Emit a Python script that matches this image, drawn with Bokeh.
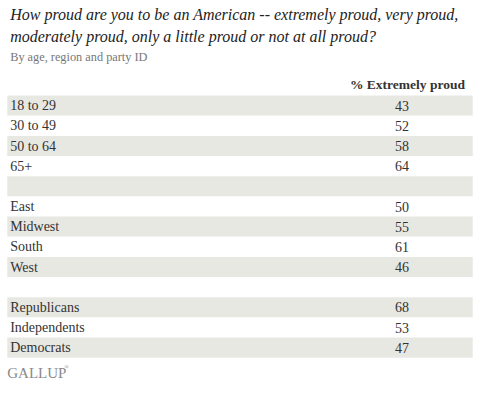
from bokeh.plotting import figure
from bokeh.models import ColumnDataSource, Range1d
from bokeh.core.properties import value
from bokeh.embed import file_html
from bokeh.resources import INLINE

title_lines = ["How proud are you to be an American -- extremely proud, very proud,",
               "moderately proud, only a little proud or not at all proud?"]
subtitle = "By age, region and party ID"
column_header = "% Extremely proud"

age_groups = ["18 to 29", "30 to 49", "50 to 64", "65+"]
age_pct = [43, 52, 58, 64]
regions = ["East", "Midwest", "South", "West"]
region_pct = [50, 55, 61, 46]
parties = ["Republicans", "Independents", "Democrats"]
party_pct = [68, 53, 47]

SERIF = "Liberation Serif"

# one row per line of the table, with an empty row between groups
labels, values = [], []
for names, pcts in [(age_groups, age_pct), (regions, region_pct), (parties, party_pct)]:
    if labels:
        labels.append("")
        values.append("")
    labels += names
    values += [str(v) for v in pcts]

row_h = 21
top = 99
n = len(labels)
centers = [top + row_h * (i + 0.5) for i in range(n)]
shade = ["#e8e8e3" if i % 2 == 0 else "#ffffff" for i in range(n)]

rows = ColumnDataSource(dict(label=labels, val=values, y=centers, fill=shade))

p = figure(width=479, height=388, output_backend="svg", toolbar_location=None,
           x_range=Range1d(0, 495), y_range=Range1d(404, 0),
           min_border=0, outline_line_color=None)
p.axis.visible = False
p.grid.visible = False

p.rect(x=247.5, y="y", width=481, height=row_h, fill_color="fill",
       line_color=None, source=rows)
p.text(x=10, y="y", text="label", text_font=value(SERIF), text_font_size="14px",
       text_color="#333333", text_baseline="middle", source=rows)
p.text(x=415, y="y", text="val", text_font=value(SERIF), text_font_size="14px",
       text_color="#333333", text_baseline="middle", text_align="center", source=rows)

p.text(x=[10, 10], y=[15, 37], text=title_lines, text_font=value(SERIF),
       text_font_style="italic", text_font_size="16px", text_color="#222222",
       text_baseline="middle")
p.text(x=[10], y=[59], text=[subtitle], text_font=value(SERIF),
       text_font_size="12.3px", text_color="#777777", text_baseline="middle")
p.text(x=[480], y=[87], text=[column_header], text_font=value(SERIF),
       text_font_style="bold", text_font_size="13.5px", text_color="#333333",
       text_baseline="middle", text_align="right")
p.text(x=[7], y=[388], text=["GALLUP"], text_font=value(SERIF),
       text_font_size="15px", text_color="#8a8a8a", text_baseline="middle")
p.text(x=[66], y=[382], text=["®"], text_font=value(SERIF),
       text_font_size="6px", text_color="#8a8a8a", text_baseline="middle")

open("out.html", "w").write(file_html(p, INLINE))
